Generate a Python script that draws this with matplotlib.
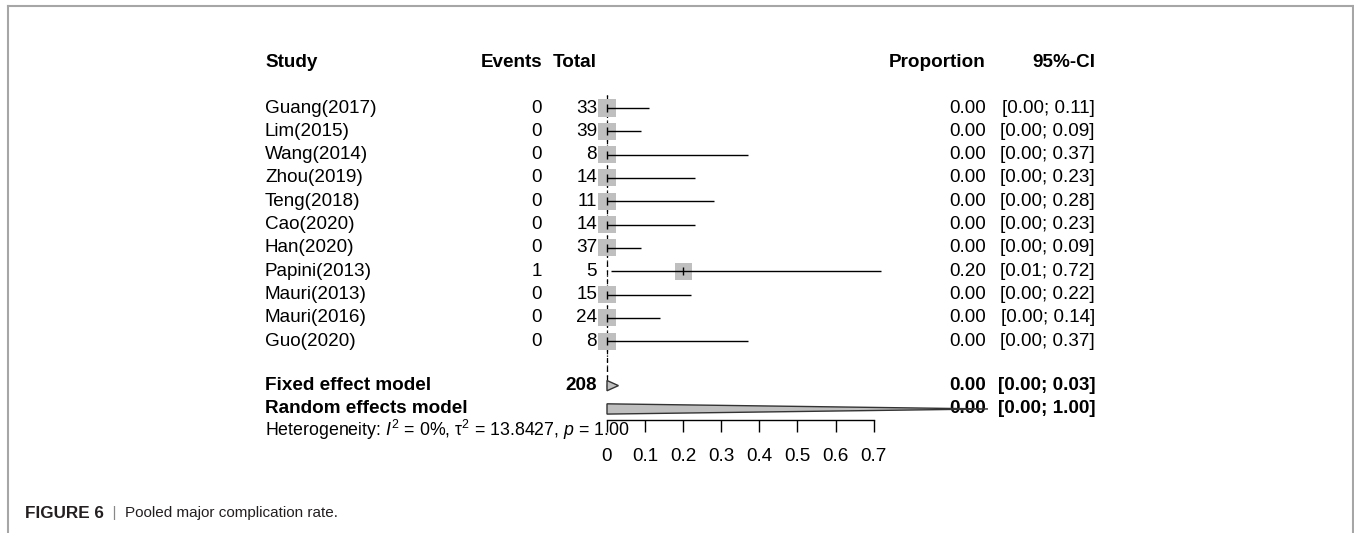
import matplotlib
matplotlib.use("Agg")
import matplotlib.pyplot as plt
from matplotlib.lines import Line2D
from matplotlib.patches import Polygon

# study-level data
studies = ["Guang(2017)", "Lim(2015)", "Wang(2014)", "Zhou(2019)", "Teng(2018)", "Cao(2020)",
           "Han(2020)", "Papini(2013)", "Mauri(2013)", "Mauri(2016)", "Guo(2020)"]
events = [0, 0, 0, 0, 0, 0, 0, 1, 0, 0, 0]
totals = [33, 39, 8, 14, 11, 14, 37, 5, 15, 24, 8]
prop = [0.00, 0.00, 0.00, 0.00, 0.00, 0.00, 0.00, 0.20, 0.00, 0.00, 0.00]
lower = [0.00, 0.00, 0.00, 0.00, 0.00, 0.00, 0.00, 0.01, 0.00, 0.00, 0.00]
upper = [0.11, 0.09, 0.37, 0.23, 0.28, 0.23, 0.09, 0.72, 0.22, 0.14, 0.37]

# pooled models
models = ["Fixed effect model", "Random effects model"]
model_total = 208
model_prop = [0.00, 0.00]
model_lower = [0.00, 0.00]
model_upper = [0.03, 1.00]
heterogeneity = r"Heterogeneity: $I^2$ = 0%, τ$^2$ = 13.8427, $p$ = 1.00"

ticks = [0, 0.1, 0.2, 0.3, 0.4, 0.5, 0.6, 0.7]
tick_labels = ["0", "0.1", "0.2", "0.3", "0.4", "0.5", "0.6", "0.7"]

plt.rcParams["font.family"] = ["Liberation Sans", "DejaVu Sans"]
plt.rcParams["mathtext.fontset"] = "custom"
plt.rcParams["mathtext.rm"] = "Liberation Sans"
plt.rcParams["mathtext.it"] = "Liberation Sans:italic"
plt.rcParams["mathtext.bf"] = "Liberation Sans:bold"

W, H = 1354, 533
FS = 13.6
fig = plt.figure(figsize=(W / 100, H / 100), dpi=100)

# forest axes: full width, bottom edge is the x axis line
axis_px = 420
ax = fig.add_axes([0, (H - axis_px) / H, 1, axis_px / H])
zero_px, unit_px = 607, 381
ax.set_xlim(-zero_px / unit_px, (W - zero_px) / unit_px)
row0_px, row_px = 108, 23.33
ax.set_ylim((axis_px - row0_px) / row_px, -row0_px / row_px)
ax.patch.set_visible(False)
for s in ["top", "left", "right"]:
    ax.spines[s].set_visible(False)
ax.spines["bottom"].set_bounds(0, 0.7)
ax.spines["bottom"].set_linewidth(1.0)
ax.set_xticks(ticks)
ax.set_xticklabels(tick_labels)
ax.tick_params(axis="x", direction="out", length=8.6, width=1.0, pad=11.5, labelsize=FS)
ax.set_yticks([])

rows = list(range(len(studies)))
fixed_row, random_row = 11.9, 12.9
header_row = -1.93
het_row = 13.8

trans = ax.get_yaxis_transform()
col_study = 265 / W
col_events = 542 / W
col_total = 597 / W
col_prop = 986 / W
col_ci = 1095 / W

# header
ax.text(col_study, header_row, "Study", transform=trans, fontsize=FS, fontweight="bold", va="center")
ax.text(col_events, header_row, "Events", transform=trans, fontsize=FS, fontweight="bold", va="center", ha="right")
ax.text(col_total, header_row, "Total", transform=trans, fontsize=FS, fontweight="bold", va="center", ha="right")
ax.text(col_prop, header_row, "Proportion", transform=trans, fontsize=FS, fontweight="bold", va="center", ha="right")
ax.text(col_ci, header_row, "95%-CI", transform=trans, fontsize=FS, fontweight="bold", va="center", ha="right")

# studies
for r, name, e, n, p, lo, up in zip(rows, studies, events, totals, prop, lower, upper):
    ax.text(col_study, r, name, transform=trans, fontsize=FS, va="center")
    ax.text(col_events, r, str(e), transform=trans, fontsize=FS, va="center", ha="right")
    ax.text(col_total, r, str(n), transform=trans, fontsize=FS, va="center", ha="right")
    ax.text(col_prop, r, f"{p:.2f}", transform=trans, fontsize=FS, va="center", ha="right")
    ax.text(col_ci, r, f"[{lo:.2f}; {up:.2f}]", transform=trans, fontsize=FS, va="center", ha="right")
    ax.plot([lo, up], [r, r], color="black", lw=1.0, solid_capstyle="butt", zorder=3)

ax.scatter(prop, rows, marker="s", s=150, color="#bfbfbf", edgecolors="none", zorder=2)
ax.scatter(prop, rows, marker="|", s=40, color="black", linewidths=1.0, zorder=4)

# reference lines at pooled estimate (fixed dashed, random dotted)
ax.plot([model_prop[0]] * 2, [-0.56, fixed_row + 0.2], color="black", lw=0.9, ls=(0, (4, 3)), zorder=1)
ax.plot([model_prop[1]] * 2, [-0.56, fixed_row + 0.2], color="black", lw=0.9, ls=(0, (1, 3)), zorder=1)

# pooled rows
for r, name, p, lo, up in zip([fixed_row, random_row], models, model_prop, model_lower, model_upper):
    ax.text(col_study, r, name, transform=trans, fontsize=FS, fontweight="bold", va="center")
    ax.text(col_prop, r, f"{p:.2f}", transform=trans, fontsize=FS, fontweight="bold", va="center", ha="right")
    ax.text(col_ci, r, f"[{lo:.2f}; {up:.2f}]", transform=trans, fontsize=FS, fontweight="bold", va="center", ha="right")
    half = 0.22
    ax.add_patch(Polygon([(lo, r), (p, r - half), (up, r), (p, r + half)], closed=True,
                         facecolor="#bfbfbf", edgecolor="#333333", lw=1.0, zorder=5, clip_on=False))
ax.text(col_total, fixed_row, str(model_total), transform=trans, fontsize=FS, fontweight="bold", va="center", ha="right")
ax.text(col_study, het_row, heterogeneity, transform=trans, fontsize=12.8, va="center")

# page frame
frame = "#a6a6a6"
fig.add_artist(Line2D([8 / W, 8 / W], [0, 1 - 6 / H], transform=fig.transFigure, color=frame, lw=1.5))
fig.add_artist(Line2D([8 / W, 1353 / W], [1 - 6 / H, 1 - 6 / H], transform=fig.transFigure, color=frame, lw=1.5))
fig.add_artist(Line2D([1353 / W, 1353 / W], [0, 1 - 6 / H], transform=fig.transFigure, color=frame, lw=1.5))

# caption
t1 = fig.text(25 / W, 1 - 513 / H, "FIGURE 6", fontsize=12.3, fontweight="bold", color="#231f20", va="center")
t2 = ax.annotate("  |  ", xy=(1, 0), xycoords=t1, va="bottom", ha="left", fontsize=11,
                 color="#888888", annotation_clip=False)
ax.annotate("Pooled major complication rate.", xy=(1, 0), xycoords=t2, va="bottom", ha="left",
            fontsize=11, color="#231f20", annotation_clip=False)

fig.savefig("out.png", dpi=100)
